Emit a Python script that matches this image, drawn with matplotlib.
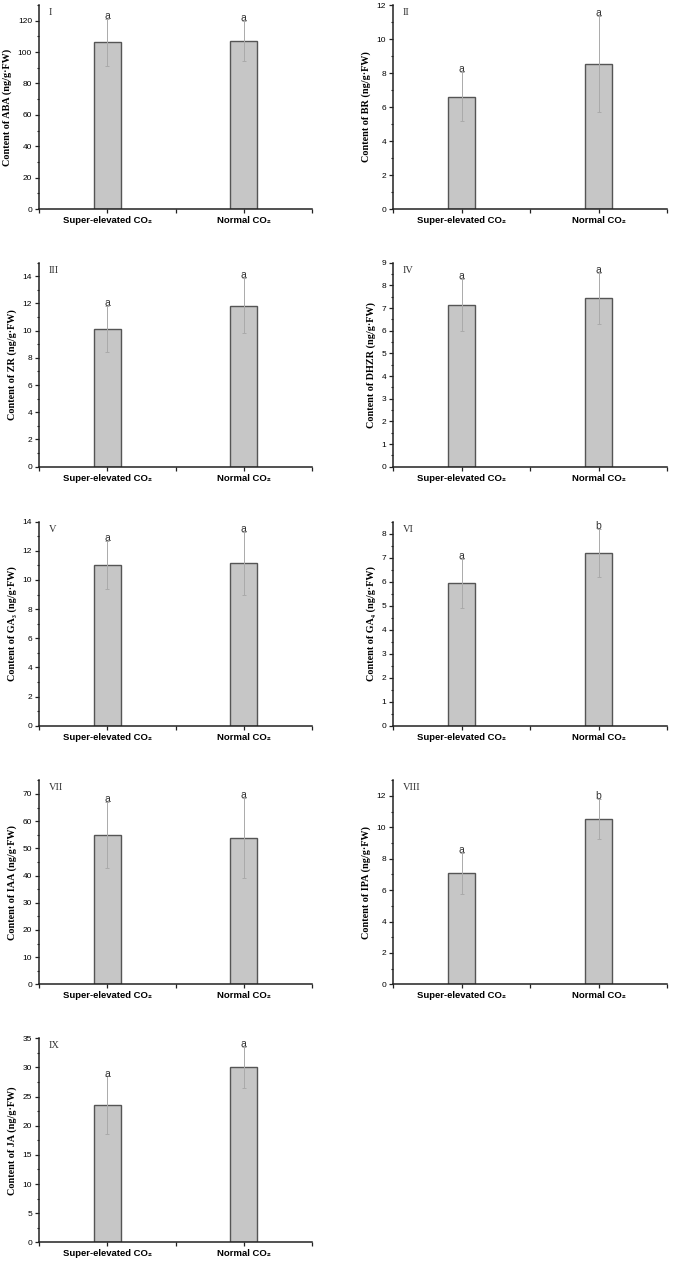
import matplotlib
matplotlib.use("Agg")
import matplotlib.pyplot as plt
from matplotlib.ticker import MultipleLocator, FixedLocator

# ---------------- data ----------------
treatments = ["Super-elevated CO\u2082", "Normal CO\u2082"]
panel_ids = ["I", "II", "III", "IV", "V", "VI", "VII", "VIII", "IX"]
hormones = ["ABA", "BR", "ZR", "DHZR", "GA\u2083", "GA\u2084", "IAA", "IPA", "JA"]

aba_mean = [106.3, 107.0];  aba_err = [15.0, 13.0];  aba_letters = ["a", "a"]
br_mean = [6.6, 8.55];      br_err = [1.45, 2.83];   br_letters = ["a", "a"]
zr_mean = [10.15, 11.85];   zr_err = [1.7, 2.0];     zr_letters = ["a", "a"]
dhzr_mean = [7.13, 7.43];   dhzr_err = [1.15, 1.13]; dhzr_letters = ["a", "a"]
ga3_mean = [11.0, 11.15];   ga3_err = [1.65, 2.15];  ga3_letters = ["a", "a"]
ga4_mean = [5.93, 7.19];    ga4_err = [1.03, 1.0];   ga4_letters = ["a", "b"]
iaa_mean = [55.0, 53.8];    iaa_err = [12.2, 14.7];  iaa_letters = ["a", "a"]
ipa_mean = [7.07, 10.53];   ipa_err = [1.3, 1.27];   ipa_letters = ["a", "b"]
ja_mean = [23.55, 30.05];   ja_err = [4.9, 3.5];     ja_letters = ["a", "a"]

means = [aba_mean, br_mean, zr_mean, dhzr_mean, ga3_mean, ga4_mean, iaa_mean, ipa_mean, ja_mean]
errs = [aba_err, br_err, zr_err, dhzr_err, ga3_err, ga4_err, iaa_err, ipa_err, ja_err]
letters = [aba_letters, br_letters, zr_letters, dhzr_letters, ga3_letters,
           ga4_letters, iaa_letters, ipa_letters, ja_letters]
y_max = [130, 12, 15, 9, 14, 8.5, 75, 13, 35]
y_major = [20, 2, 2, 1, 2, 1, 10, 2, 5]

# ---------------- layout ----------------
W, H = 674, 1266
fig = plt.figure(figsize=(W / 100, H / 100), dpi=100)
fig.patch.set_facecolor("white")

col_x = [39, 393]
col_w = [273, 274]
row_zero = [209, 466.7, 725.7, 984.3, 1242.3]
ax_h = 204

sans = ["Liberation Sans", "DejaVu Sans"]
serif = ["Liberation Serif", "DejaVu Serif"]

x_pos = [1, 2]

for i in range(9):
    r, c = divmod(i, 2)
    left = col_x[c] / W
    bottom = 1 - row_zero[r] / H
    ax = fig.add_axes([left, bottom, col_w[c] / W, ax_h / H])

    ax.bar(x_pos, means[i], width=0.2, color="#c6c6c6", edgecolor="#555555",
           linewidth=1.0, zorder=2)
    ax.errorbar(x_pos, means[i], yerr=errs[i], fmt="none", ecolor="#aaaaaa",
                elinewidth=0.7, capsize=1.5, capthick=0.7, zorder=3)
    for xp, m, e, lt in zip(x_pos, means[i], errs[i], letters[i]):
        ax.text(xp, m + e - 0.01 * y_max[i], lt, ha="center", va="bottom",
                fontsize=7.5, family=sans, color="#333333", zorder=4)

    ax.set_xlim(0.5, 2.5)
    ax.set_ylim(0, y_max[i])
    ax.set_xticks(x_pos)
    ax.set_xticklabels(treatments, fontsize=6.8, fontweight="bold", family=sans)
    ax.xaxis.set_minor_locator(FixedLocator([0.5, 1.5, 2.5]))
    ax.yaxis.set_major_locator(MultipleLocator(y_major[i]))
    ax.yaxis.set_minor_locator(MultipleLocator(y_major[i] / 2))
    for lab in ax.get_yticklabels():
        lab.set_fontsize(6.0)
        lab.set_family(sans)
    ax.tick_params(axis="both", which="major", direction="out", length=3,
                   width=0.9, color="#222222", pad=2)
    ax.tick_params(axis="x", which="minor", direction="out", length=3,
                   width=0.9, color="#222222")
    ax.tick_params(axis="y", which="minor", direction="out", length=1.6,
                   width=0.8, color="#222222")
    ax.spines["top"].set_visible(False)
    ax.spines["right"].set_visible(False)
    for s in ("left", "bottom"):
        ax.spines[s].set_linewidth(1.1)
        ax.spines[s].set_color("#222222")

    ax.set_ylabel("Content of " + hormones[i] + " (ng/g\u00b7FW)", fontsize=7.3,
                  fontweight="bold", family=serif, labelpad=4)
    ax.text(0.035, 0.985, panel_ids[i], transform=ax.transAxes, ha="left",
            va="top", fontsize=7.5, family=serif, color="#333333")

fig.savefig("out.png", dpi=100, facecolor="white")
